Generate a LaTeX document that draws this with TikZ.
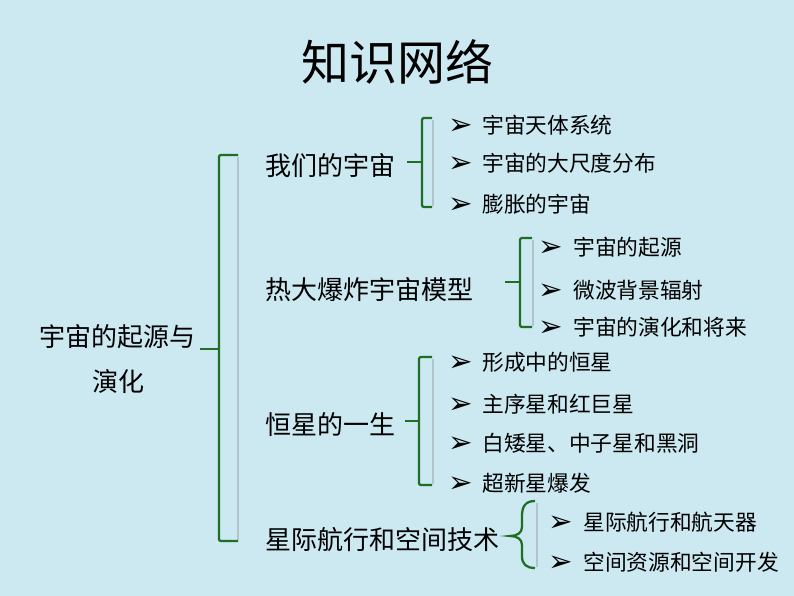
\documentclass[tikz,border=0pt]{standalone}
\usepackage{fontspec}
\setmainfont{Noto Sans CJK SC}
\newfontfamily\arrowfont{DejaVu Sans}
\definecolor{bgblue}{RGB}{204,233,241}
\definecolor{bracegreen}{RGB}{30,110,38}

\begin{document}
\begin{tikzpicture}[x=0.75pt,y=-0.75pt,
  brace/.style={bracegreen,line width=1.7pt,rounded corners=1.5pt},
  shade/.style={gray,line width=1.7pt,opacity=0.35},
  topic/.style={anchor=west,inner sep=0pt,font=\fontsize{19.5}{20}\selectfont},
  item/.style={anchor=west,inner sep=0pt,font=\fontsize{16.3}{17}\selectfont},
  bullet/.style={inner sep=0pt,yshift=-1.5pt,font=\arrowfont\fontsize{22}{22}\selectfont}]
  \fill[bgblue] (0,0) rectangle (794,596);
  \node[font=\fontsize{36}{36}\selectfont] (title) at (397,62) {知识网络};
  % root
  \node[font=\fontsize{19.5}{20}\selectfont] (root1) at (118,337) {宇宙的起源与};
  \node[font=\fontsize{19.5}{20}\selectfont] (root2) at (118,382) {演化};
  \draw[shade] (238,157) -- (238,540);
  \draw[brace] (238,155) -- (219,155) -- (219,541) -- (238,541);
  \draw[brace] (200,349) -- (219,349);
  % topics
  \node[topic] (uni) at (265,166) {我们的宇宙};
  \node[topic] (bang) at (265,290) {热大爆炸宇宙模型};
  \node[topic] (star) at (265,425) {恒星的一生};
  \node[topic] (space) at (265,540) {星际航行和空间技术};
  % group 1
  \draw[shade] (433,120) -- (433,206);
  \draw[brace] (432,118) -- (422,118) -- (422,207) -- (432,207);
  \draw[brace] (407,162) -- (422,162);
  \node[bullet] (uni1b) at (461,125) {➢};
  \node[item] (uni1) at (482,125) {宇宙天体系统};
  \node[bullet] (uni2b) at (461,163) {➢};
  \node[item] (uni2) at (482,163) {宇宙的大尺度分布};
  \node[bullet] (uni3b) at (461,204) {➢};
  \node[item] (uni3) at (482,204) {膨胀的宇宙};
  % group 2
  \draw[shade] (533,240) -- (533,326);
  \draw[brace] (532,238) -- (520,238) -- (520,327) -- (532,327);
  \draw[brace] (505,282) -- (520,282);
  \node[bullet] (bang1b) at (551,247) {➢};
  \node[item] (bang1) at (573,247) {宇宙的起源};
  \node[bullet] (bang2b) at (551,290) {➢};
  \node[item] (bang2) at (573,290) {微波背景辐射};
  \node[bullet] (bang3b) at (551,327) {➢};
  \node[item] (bang3) at (573,327) {宇宙的演化和将来};
  % group 3
  \draw[shade] (433,359) -- (433,484);
  \draw[brace] (432,357) -- (419,357) -- (419,485) -- (432,485);
  \draw[brace] (405,421) -- (419,421);
  \node[bullet] (star1b) at (461,362) {➢};
  \node[item] (star1) at (482,362) {形成中的恒星};
  \node[bullet] (star2b) at (461,404) {➢};
  \node[item] (star2) at (482,404) {主序星和红巨星};
  \node[bullet] (star3b) at (461,443) {➢};
  \node[item] (star3) at (482,443) {白矮星、中子星和黑洞};
  \node[bullet] (star4b) at (461,483) {➢};
  \node[item] (star4) at (482,483) {超新星爆发};
  % group 4
  \draw[shade] (537,503) -- (537,567);
  \draw[brace,rounded corners=0pt] (535,501) .. controls (525,501) and (522,507) .. (522,516)
    -- (522,527) .. controls (522,533) and (517,536) .. (510,536)
    .. controls (517,536) and (522,539) .. (522,545)
    -- (522,556) .. controls (522,564) and (526,568) .. (535,568);
  \node[bullet] (space1b) at (561,522) {➢};
  \node[item] (space1) at (583,522) {星际航行和航天器};
  \node[bullet] (space2b) at (561,562) {➢};
  \node[item] (space2) at (583,562) {空间资源和空间开发};
\end{tikzpicture}
\end{document}
